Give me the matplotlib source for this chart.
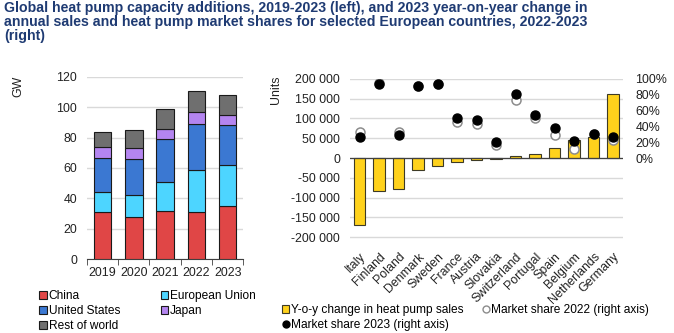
import numpy as np
import matplotlib
matplotlib.use("Agg")
import matplotlib.pyplot as plt
from matplotlib.patches import Patch
from matplotlib.lines import Line2D
from matplotlib.ticker import FuncFormatter

plt.rcParams['font.family'] = ['Liberation Sans', 'DejaVu Sans']

# Left panel: capacity additions (GW)
years = ['2019', '2020', '2021', '2022', '2023']
china = [31, 28, 32, 31, 35]
eu = [13, 14, 19, 28, 27]
us = [22.5, 24, 28, 30, 26]
japan = [7.5, 7, 7, 8, 7]
rest = [10, 12, 13, 14, 13]

# Right panel: sales change (units) and market shares (%)
countries = ['Italy', 'Finland', 'Poland', 'Denmark', 'Sweden', 'France', 'Austria',
             'Slovakia', 'Switzerland', 'Portugal', 'Spain', 'Belgium',
             'Netherlands', 'Germany']
yoy_change = [-170000, -82500, -78000, -31000, -19500, -10000, -5000,
              -2500, 4000, 11000, 25000, 44500, 53500, 163000]
share_2022 = [33, 95, 33, 91, 94, 45, 43, 16, 73, 50, 29, 11, 31, 23]
share_2023 = [26.5, 94, 28.5, 91, 94, 50, 48, 20, 81.5, 55, 38.5, 22, 31, 27]

grid_c = '#d9d9d9'
text_c = '#222222'
fs = 8.9
lfs = 8.6

fig = plt.figure(figsize=(6.74, 3.33), dpi=100)

fig.text(0.006, 0.996,
         'Global heat pump capacity additions, 2019-2023 (left), and 2023 year-on-year change in\n'
         'annual sales and heat pump market shares for selected European countries, 2022-2023\n'
         '(right)',
         ha='left', va='top', fontsize=10.2, fontweight='bold', color='#1f3b73',
         linespacing=0.98)

# ---- left: stacked columns
ax1 = fig.add_axes([0.129, 0.222, 0.232, 0.547])
x = np.arange(len(years))
series = [(china, '#e04646', 'China'), (eu, '#4dd5ff', 'European Union'),
          (us, '#3b78d2', 'United States'), (japan, '#b485f0', 'Japan'),
          (rest, '#6f6f6f', 'Rest of world')]
bottom = np.zeros(len(years))
for vals, col, lab in series:
    ax1.bar(x, vals, 0.56, bottom=bottom, color=col, edgecolor='#1a1a1a',
            linewidth=0.8, zorder=3, label=lab)
    bottom += np.array(vals)

ax1.set_ylim(0, 120)
ax1.set_xlim(-0.5, len(years) - 0.5)
ax1.set_yticks(range(0, 121, 20))
ax1.set_xticks(x)
ax1.set_xticklabels(years)
ax1.set_xticks(np.arange(-0.5, len(years), 1), minor=True)
ax1.tick_params(axis='x', which='major', length=0, pad=6)
ax1.tick_params(axis='x', which='minor', length=4, color='#404040')
ax1.tick_params(axis='y', length=0, pad=7)
ax1.tick_params(labelsize=fs, labelcolor=text_c)
ax1.yaxis.grid(True, color=grid_c, linewidth=1)
ax1.set_axisbelow(True)
for s in ['top', 'right', 'left']:
    ax1.spines[s].set_visible(False)
ax1.spines['bottom'].set_color('#404040')
fig.text(0.018, 0.74, 'GW', rotation=90, fontsize=fs, color=text_c, ha='left', va='center')

# ---- right: bars with market share dots on secondary axis
ax2 = fig.add_axes([0.519, 0.264, 0.405, 0.499])
xc = np.arange(len(countries))
ax2.bar(xc, yoy_change, 0.6, color='#ffd21c', edgecolor='#3d3a26', linewidth=0.8,
        zorder=3)
ax2.axhline(0, color='#404040', linewidth=0.9, zorder=4)
ax2.set_xlim(-0.5, len(countries) - 0.5)
ax2.set_ylim(-220000, 200000)
ax2.set_yticks(range(-200000, 200001, 50000))
ax2.yaxis.set_major_formatter(FuncFormatter(lambda v, p: f'{int(v):,}'.replace(',', ' ')))
ax2.set_xticks(xc)
ax2.set_xticklabels(countries, rotation=45, ha='right', rotation_mode='anchor')
ax2.tick_params(axis='x', length=0, pad=4)
ax2.tick_params(axis='y', length=0, pad=7)
ax2.tick_params(labelsize=fs, labelcolor=text_c)
ax2.yaxis.grid(True, color=grid_c, linewidth=1)
ax2.set_axisbelow(True)
for s in ['top', 'right', 'left', 'bottom']:
    ax2.spines[s].set_visible(False)
fig.text(0.400, 0.73, 'Units', rotation=90, fontsize=fs, color=text_c, ha='left', va='center')

ax3 = ax2.twinx()
ax3.set_ylim(-110, 100)
ax3.plot(xc, share_2022, 'o', ms=6.5, mfc='white', mec='#8c8c8c', mew=1.1, zorder=5)
ax3.plot(xc, share_2023, 'o', ms=6.5, mfc='black', mec='black', zorder=6)
ax3.set_yticks(range(0, 101, 20))
ax3.yaxis.set_major_formatter(FuncFormatter(lambda v, p: f'{int(v)}%'))
ax3.tick_params(axis='y', length=0, pad=9, labelsize=fs, labelcolor=text_c)
for s in ['top', 'right', 'left', 'bottom']:
    ax3.spines[s].set_visible(False)

# ---- legends
sq = dict(edgecolor='#1a1a1a', linewidth=0.8)
h_left = [Patch(facecolor='#e04646', label='China', **sq),
          Patch(facecolor='#3b78d2', label='United States', **sq),
          Patch(facecolor='#6f6f6f', label='Rest of world', **sq),
          Patch(facecolor='#4dd5ff', label='European Union', **sq),
          Patch(facecolor='#b485f0', label='Japan', **sq)]
fig.legend(handles=h_left, ncol=2, loc='upper left', bbox_to_anchor=(0.058, 0.128),
           frameon=False, fontsize=lfs, handlelength=0.65, handleheight=0.65,
           handletextpad=0.15, columnspacing=3.4, labelspacing=0.25, borderaxespad=0,
           borderpad=0)

h_right = [Patch(facecolor='#ffd21c', edgecolor='#3d3a26', linewidth=0.8,
                 label='Y-o-y change in heat pump sales'),
           Line2D([], [], marker='o', ls='', ms=5, mfc='black', mec='black',
                  label='Market share 2023 (right axis)'),
           Line2D([], [], marker='o', ls='', ms=5, mfc='white', mec='#8c8c8c',
                  label='Market share 2022 (right axis)')]
fig.legend(handles=h_right, ncol=2, loc='upper left', bbox_to_anchor=(0.418, 0.087),
           frameon=False, fontsize=lfs, handlelength=0.65, handleheight=0.65,
           handletextpad=0.15, columnspacing=1.5, labelspacing=0.25, borderaxespad=0,
           borderpad=0)

fig.savefig('out.png', dpi=100)
